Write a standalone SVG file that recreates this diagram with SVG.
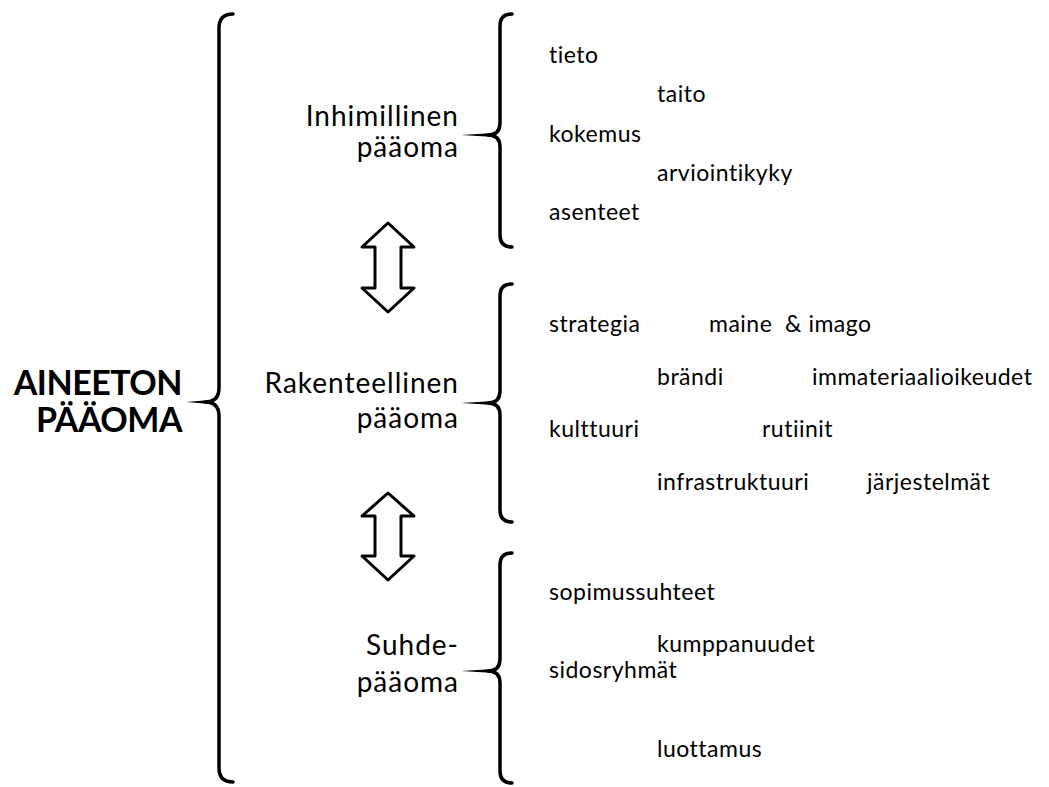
<svg xmlns="http://www.w3.org/2000/svg" width="1049" height="787" viewBox="0 0 1049 787">
  <style>
    .brace { fill: none; stroke: #000; stroke-width: 3.5; stroke-linecap: round; stroke-linejoin: round; }
    .tip { fill: #000; }
    .arrow { fill: #fff; stroke: #000; stroke-width: 3; stroke-linejoin: round; }
    text { font-family: Lato, "Liberation Sans", sans-serif; fill: #000; font-variant-ligatures: none; }
    .title { font-weight: bold; font-size: 34px; letter-spacing: -0.5px; text-anchor: end; }
    .group { font-size: 28px; letter-spacing: 1px; text-anchor: end; }
    .item { font-size: 23px; letter-spacing: 0.5px; }
  </style>
  <rect width="1049" height="787" fill="#fff"/>

  <!-- Main node: intangible capital -->
  <g id="aineeton">
    <text class="title" x="182" y="395">AINEETON</text>
    <text class="title" x="182" y="432">PÄÄOMA</text>
  </g>

  <!-- Braces and double arrows -->
  <g id="connectors">
    <!-- large brace -->
    <path class="brace" d="M233,14 Q219,14 219,28 L219,388 Q219,402 205,402 M205,402 Q219,402 219,416 L219,768 Q219,782 233,782"/>
    <polygon class="tip" points="207,400.2 186,402 207,403.8"/>

    <!-- human capital brace -->
    <path class="brace" d="M512,14 Q500,14 500,26 L500,123 Q500,135 488,135 M488,135 Q500,135 500,147 L500,235 Q500,247 512,247"/>
    <polygon class="tip" points="490,133.2 461,135 490,136.8"/>

    <!-- structural capital brace -->
    <path class="brace" d="M512,284 Q500,284 500,296 L500,391 Q500,403 488,403 M488,403 Q500,403 500,415 L500,510 Q500,522 512,522"/>
    <polygon class="tip" points="490,401.2 461,403 490,404.8"/>

    <!-- relational capital brace -->
    <path class="brace" d="M512,553 Q500,553 500,565 L500,659 Q500,671 488,671 M488,671 Q500,671 500,683 L500,771 Q500,783 512,783"/>
    <polygon class="tip" points="490,669.2 461,671 490,672.8"/>

    <!-- double arrows between groups -->
    <polygon class="arrow" points="388,223 362,247 375,247 375,288 362,288 388,312 414,288 401,288 401,247 414,247"/>
    <polygon class="arrow" points="388,493 362,516 375,516 375,556 362,556 388,580 414,556 401,556 401,516 414,516"/>
  </g>

  <!-- Human capital -->
  <g id="inhimillinen">
    <text class="group" x="459" y="126">Inhimillinen</text>
    <text class="group" x="459" y="157">pääoma</text>
    <text class="item" x="549" y="63">tieto</text>
    <text class="item" x="657" y="102">taito</text>
    <text class="item" x="549" y="142">kokemus</text>
    <text class="item" x="657" y="181">arviointikyky</text>
    <text class="item" x="549" y="220">asenteet</text>
  </g>

  <!-- Structural capital -->
  <g id="rakenteellinen">
    <text class="group" x="459" y="393">Rakenteellinen</text>
    <text class="group" x="459" y="428">pääoma</text>
    <text class="item" x="549" y="332">strategia</text>
    <text class="item" x="709" y="332" xml:space="preserve">maine  &amp; imago</text>
    <text class="item" x="657" y="385">brändi</text>
    <text class="item" x="812" y="385">immateriaalioikeudet</text>
    <text class="item" x="549" y="437">kulttuuri</text>
    <text class="item" x="762" y="437">rutiinit</text>
    <text class="item" x="657" y="490">infrastruktuuri</text>
    <text class="item" x="867" y="490">järjestelmät</text>
  </g>

  <!-- Relational capital -->
  <g id="suhde">
    <text class="group" x="459" y="655">Suhde-</text>
    <text class="group" x="459" y="692">pääoma</text>
    <text class="item" x="549" y="600">sopimussuhteet</text>
    <text class="item" x="657" y="652">kumppanuudet</text>
    <text class="item" x="549" y="678">sidosryhmät</text>
    <text class="item" x="657" y="757">luottamus</text>
  </g>
</svg>
